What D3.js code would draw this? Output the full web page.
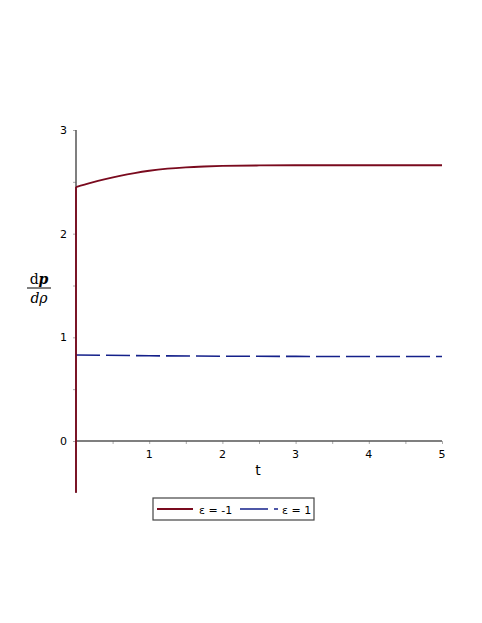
<!DOCTYPE html>
<html>
<head>
<meta charset="utf-8">
<script src="https://cdn.jsdelivr.net/npm/d3@7"></script>
<style>
  body { margin: 0; background: #fff; }
  text { font-family: "DejaVu Sans", sans-serif; }
</style>
</head>
<body>
<div id="chart"></div>
<script>
// curve values
const tRed = [0, 0.2, 0.4, 0.6, 0.8, 1, 1.25, 1.5, 1.75, 2, 2.5, 3, 4, 5];
const yRed = [2.45, 2.49, 2.526, 2.558, 2.585, 2.607, 2.627, 2.64, 2.648, 2.653, 2.658, 2.66, 2.66, 2.66];
const redDrop = [-0.5, 2.45];   // vertical part at t = 0
const tBlue = [0, 1, 2, 3, 4, 5];
const yBlue = [0.83, 0.822, 0.818, 0.816, 0.815, 0.815];
const xTicks = [1, 2, 3, 4, 5];
const yTicks = [0, 1, 2, 3];
const legendLabels = ["ε = -1", "ε = 1"];

const width = 482, height = 623;
const x = d3.scaleLinear().domain([0, 5]).range([76, 442]);
const y = d3.scaleLinear().domain([0, 3]).range([441, 130]);

const svg = d3.select("#chart").append("svg")
    .attr("width", width)
    .attr("height", height);

// x axis
svg.append("g")
    .attr("transform", `translate(0, ${y(0)})`)
    .call(d3.axisBottom(x).tickValues(d3.range(0.5, 5.01, 0.5)).tickSize(3).tickFormat(""))
    .call(g => g.select(".domain").remove())
    .call(g => g.selectAll("line").attr("stroke", "#aaa"));
svg.append("line")
    .attr("x1", x(0)).attr("x2", x(5))
    .attr("y1", y(0)).attr("y2", y(0))
    .attr("stroke", "#555").attr("stroke-width", 1.5);
svg.selectAll(".xlab").data(xTicks).enter()
    .append("text")
    .attr("x", d => x(d))
    .attr("y", y(0) + 17)
    .style("text-anchor", "middle")
    .style("font-size", "11px")
    .text(d => d);

// y axis
svg.append("g")
    .attr("transform", `translate(${x(0)}, 0)`)
    .call(d3.axisLeft(y).tickValues(d3.range(0, 3.01, 0.5)).tickSize(3).tickFormat(""))
    .call(g => g.select(".domain").remove())
    .call(g => g.selectAll("line").attr("stroke", "#aaa"));
svg.append("line")
    .attr("x1", x(0)).attr("x2", x(0))
    .attr("y1", y(3)).attr("y2", y(-0.5))
    .attr("stroke", "#555").attr("stroke-width", 1.5);
svg.selectAll(".ylab").data(yTicks).enter()
    .append("text")
    .attr("x", x(0) - 9)
    .attr("y", d => y(d) + 4)
    .style("text-anchor", "end")
    .style("font-size", "11px")
    .text(d => d);

// axis titles
svg.append("text")
    .attr("x", 258).attr("y", 475)
    .style("text-anchor", "middle")
    .style("font-size", "14px")
    .text("t");

let lab = svg.append("g").attr("transform", "translate(39, 0)");
let num = lab.append("text")
    .attr("y", 284)
    .style("text-anchor", "middle")
    .style("font-family", "'DejaVu Serif', serif")
    .style("font-size", "14px");
num.append("tspan").text("d");
num.append("tspan").style("font-weight", "bold").style("font-style", "italic").text("p");
lab.append("line")
    .attr("x1", -12).attr("x2", 12)
    .attr("y1", 288).attr("y2", 288)
    .attr("stroke", "#000").attr("stroke-width", 1);
lab.append("text")
    .attr("y", 303)
    .style("text-anchor", "middle")
    .style("font-family", "'DejaVu Serif', serif")
    .style("font-style", "italic")
    .style("font-size", "14px")
    .text("dρ");

// curves
let line = d3.line()
    .x(d => x(d[0]))
    .y(d => y(d[1]));

svg.append("path")
    .datum(tBlue.map((t, i) => [t, yBlue[i]]))
    .attr("fill", "none")
    .attr("stroke", "#14208a")
    .attr("stroke-width", 1.6)
    .attr("stroke-dasharray", "24,6")
    .attr("d", line);

svg.append("path")
    .datum(redDrop.map(v => [0, v]))
    .attr("fill", "none")
    .attr("stroke", "#7a0a1e")
    .attr("stroke-width", 1.8)
    .attr("d", line);

svg.append("path")
    .datum(tRed.map((t, i) => [t, yRed[i]]))
    .attr("fill", "none")
    .attr("stroke", "#7a0a1e")
    .attr("stroke-width", 1.8)
    .attr("d", d3.line().x(d => x(d[0])).y(d => y(d[1])).curve(d3.curveMonotoneX));

// legend
let legend = svg.append("g");
legend.append("rect")
    .attr("x", 153).attr("y", 498)
    .attr("width", 161).attr("height", 22)
    .attr("fill", "#fff")
    .attr("stroke", "#444").attr("stroke-width", 1.2);
legend.append("line")
    .attr("x1", 157).attr("x2", 193)
    .attr("y1", 509).attr("y2", 509)
    .attr("stroke", "#7a0a1e").attr("stroke-width", 1.8);
legend.append("text")
    .attr("x", 199).attr("y", 514)
    .style("font-size", "11px")
    .text(legendLabels[0]);
legend.append("line")
    .attr("x1", 240).attr("x2", 278)
    .attr("y1", 509).attr("y2", 509)
    .attr("stroke", "#14208a").attr("stroke-width", 1.6)
    .attr("stroke-dasharray", "28,6");
legend.append("text")
    .attr("x", 282).attr("y", 514)
    .style("font-size", "11px")
    .text(legendLabels[1]);
</script>
</body>
</html>
